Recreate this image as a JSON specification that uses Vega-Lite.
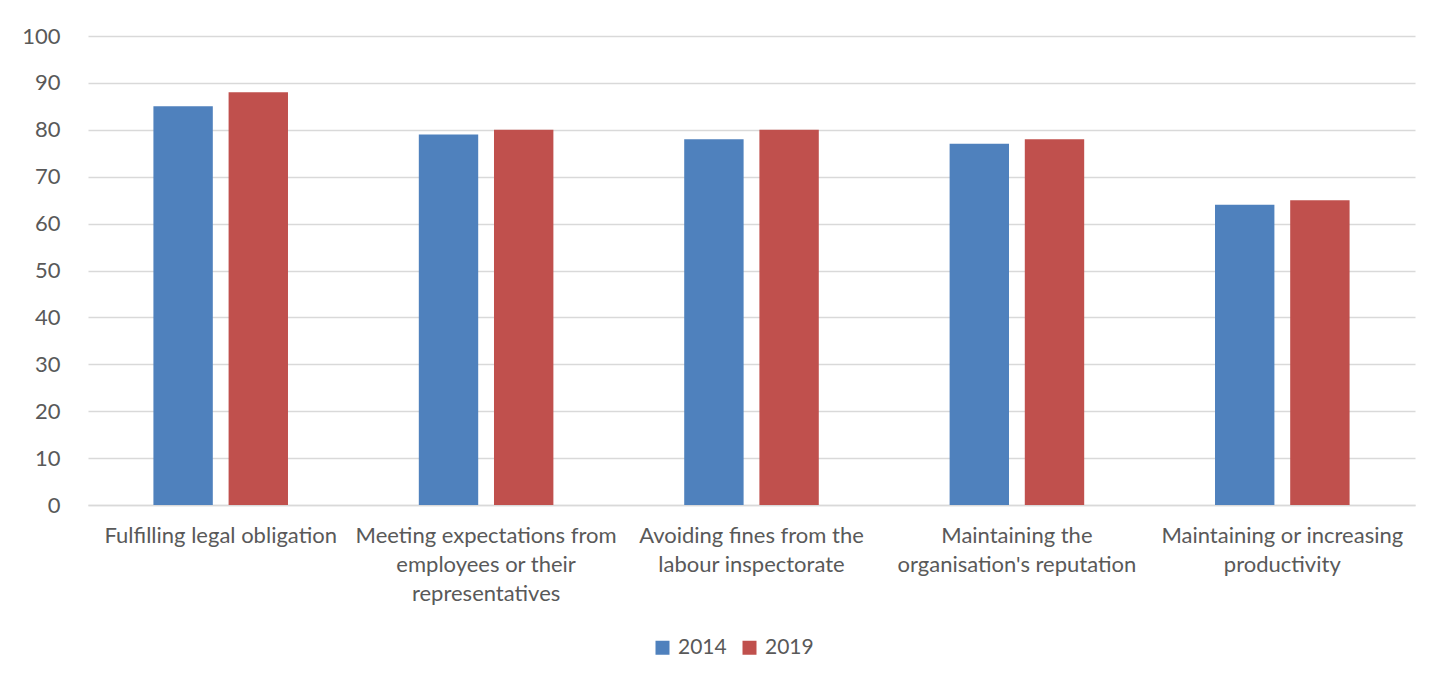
{
  "$schema": "https://vega.github.io/schema/vega-lite/v6.json",
  "autosize": {"type": "none"},
  "width": 1327,
  "height": 469,
  "padding": {"left": 88, "top": 36, "right": 36, "bottom": 179},
  "background": "white",
  "config": {
    "view": {"stroke": null},
    "font": "Lato",
    "axis": {"labelColor": "#595959", "labelFont": "Lato", "labelFontSize": 22, "gridColor": "#d9d9d9", "gridWidth": 1.5, "domainColor": "#d9d9d9", "domainWidth": 1.5, "ticks": false, "title": null},
    "legend": {"labelColor": "#595959", "labelFont": "Lato", "labelFontSize": 21}
  },
  "data": {
    "values": [
      {"reason": "Fulfilling legal obligation", "year": "2014", "value": 85},
      {"reason": "Fulfilling legal obligation", "year": "2019", "value": 88},
      {"reason": "Meeting expectations from employees or their representatives", "year": "2014", "value": 79},
      {"reason": "Meeting expectations from employees or their representatives", "year": "2019", "value": 80},
      {"reason": "Avoiding fines from the labour inspectorate", "year": "2014", "value": 78},
      {"reason": "Avoiding fines from the labour inspectorate", "year": "2019", "value": 80},
      {"reason": "Maintaining the organisation's reputation", "year": "2014", "value": 77},
      {"reason": "Maintaining the organisation's reputation", "year": "2019", "value": 78},
      {"reason": "Maintaining or increasing productivity", "year": "2014", "value": 64},
      {"reason": "Maintaining or increasing productivity", "year": "2019", "value": 65}
    ]
  },
  "mark": {"type": "bar"},
  "encoding": {
    "x": {
      "field": "reason",
      "type": "nominal",
      "sort": null,
      "scale": {"paddingInner": 0, "paddingOuter": 0},
      "axis": {
        "labelAngle": 0,
        "labelPadding": 20,
        "labelLineHeight": 29,
        "labelLimit": 300,
        "labelBaseline": "top",
        "domain": true,
        "labelExpr": "datum.value == 'Meeting expectations from employees or their representatives' ? ['Meeting expectations from', 'employees or their', 'representatives'] : datum.value == 'Avoiding fines from the labour inspectorate' ? ['Avoiding fines from the', 'labour inspectorate'] : datum.value == \"Maintaining the organisation's reputation\" ? ['Maintaining the', \"organisation's reputation\"] : datum.value == 'Maintaining or increasing productivity' ? ['Maintaining or increasing', 'productivity'] : datum.value"
      }
    },
    "xOffset": {
      "field": "year",
      "type": "nominal",
      "scale": {"paddingInner": 0.21, "paddingOuter": 0.87}
    },
    "y": {
      "field": "value",
      "type": "quantitative",
      "scale": {"domain": [0, 100]},
      "axis": {"values": [0,10,20,30,40,50,60,70,80,90,100], "labelOverlap": false, "domain": false, "labelPadding": 28, "grid": true}
    },
    "color": {
      "field": "year",
      "type": "nominal",
      "scale": {"domain": ["2014", "2019"], "range": ["#4F81BD", "#C0504D"]},
      "legend": {"title": null, "orient": "none", "direction": "horizontal", "legendX": 564, "legendY": 601, "symbolType": "square", "symbolSize": 196, "symbolStrokeWidth": 0, "symbolOpacity": 1, "labelOffset": 5, "columnPadding": 12}
    }
  }
}
